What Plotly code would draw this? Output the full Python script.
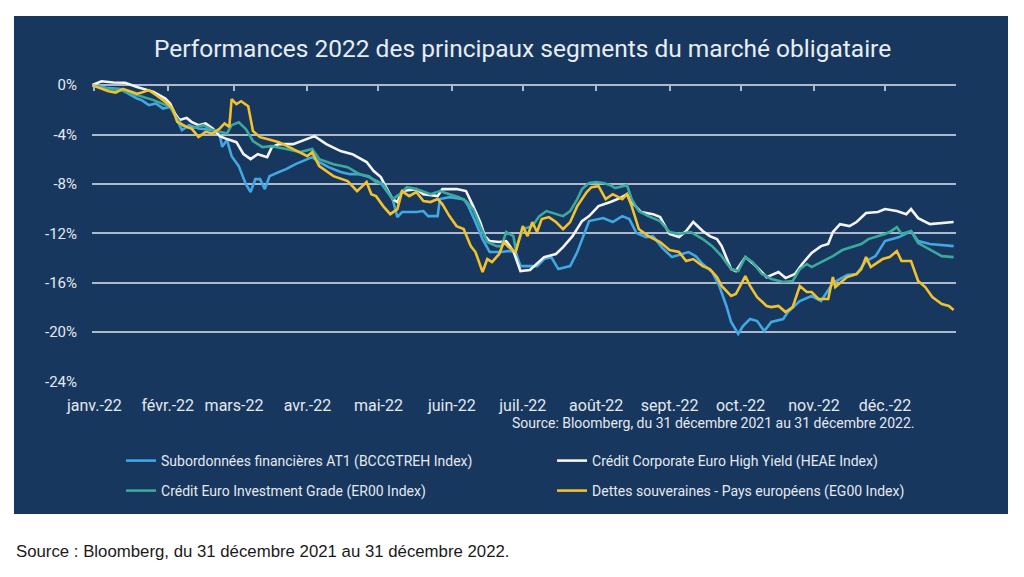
import pandas as pd
import plotly.graph_objects as go

BASE = "2021-12-31"

# ---- data: day offsets from 31/12/2021 and performance in % ----
at1_days = [0, 6, 12, 14, 19, 21, 24, 27, 30, 33, 35, 37, 38, 41, 45, 51, 54, 55, 57, 59, 62, 65, 67, 69, 71, 73, 75,
            79, 82, 86, 91, 93, 96, 100, 105, 109, 113, 117, 122, 124, 127, 129, 131, 137, 140, 142, 146, 147, 151,
            157, 159, 162, 165, 168, 173, 176, 179, 181, 188, 191, 194, 197, 202, 205, 207, 210, 216, 220, 224, 227,
            230, 234, 237, 241, 245, 249, 252, 255, 258, 262, 265, 268, 270, 273, 275, 278, 281, 284, 287, 292, 294,
            299, 304, 308, 313, 319, 323, 327, 331, 335, 341, 346, 349, 354, 364]
at1_vals = [0.0, -0.22, -0.32, -0.54, -1.08, -1.21, -1.62, -1.48, -1.89, -1.76, -2.29, -3.24, -3.64, -3.24, -3.51,
            -3.64, -4.05, -5.0, -4.45, -5.75, -6.56, -8.02, -8.66, -7.61, -7.61, -8.42, -7.37, -7.04, -6.80, -6.40,
            -5.99, -5.83, -6.23, -6.64, -7.04, -7.21, -7.21, -7.45, -7.93, -8.42, -9.23, -10.69, -10.28, -10.28,
            -10.20, -10.61, -10.61, -9.23, -9.07, -9.23, -9.80, -11.09, -12.47, -13.52, -13.52, -13.44, -13.52,
            -14.66, -14.66, -14.09, -13.93, -14.90, -14.66, -13.52, -12.47, -11.01, -10.77, -11.09, -10.61, -10.85,
            -11.98, -12.31, -12.23, -13.20, -13.93, -13.68, -13.52, -13.85, -14.49, -15.14, -16.27, -17.89, -19.19,
            -20.16, -19.51, -18.95, -19.11, -19.92, -19.19, -18.95, -18.38, -17.49, -17.08, -17.49, -16.03, -15.38,
            -15.30, -14.25, -13.85, -12.63, -12.31, -11.82, -12.63, -12.87, -13.04]

hy_days = [0, 4, 9, 14, 19, 26, 31, 33, 35, 37, 40, 42, 45, 48, 51, 54, 57, 61, 64, 67, 70, 74, 76, 79, 85, 91, 94,
           99, 105, 110, 116, 119, 122, 124, 127, 129, 131, 137, 140, 146, 148, 154, 158, 161, 164, 166, 168, 172,
           175, 178, 181, 185, 188, 191, 196, 199, 203, 207, 210, 214, 219, 223, 226, 228, 232, 237, 240, 244, 248,
           251, 254, 258, 261, 264, 266, 270, 272, 276, 280, 285, 290, 293, 297, 300, 304, 308, 311, 313, 316, 320,
           323, 327, 332, 335, 340, 344, 346, 349, 354, 358, 364]
hy_vals = [0.0, 0.32, 0.22, 0.2, -0.14, -0.54, -1.08, -1.49, -2.29, -2.83, -2.65, -2.97, -3.24, -3.10, -3.51, -4.13,
           -4.37, -4.62, -5.59, -5.99, -5.59, -5.83, -5.02, -4.78, -4.78, -4.37, -4.13, -4.78, -5.34, -5.59, -6.23,
           -6.96, -7.45, -8.18, -9.23, -9.47, -8.58, -8.42, -8.83, -8.99, -8.42, -8.42, -8.58, -9.80, -11.09, -12.23,
           -12.63, -12.71, -12.63, -13.44, -15.06, -14.98, -14.49, -13.93, -13.68, -13.12, -12.23, -11.01, -10.61,
           -9.80, -9.47, -9.15, -8.83, -9.47, -10.28, -10.45, -10.69, -12.06, -12.31, -11.82, -11.09, -11.82, -12.23,
           -12.47, -13.04, -14.90, -15.06, -13.93, -14.57, -15.55, -15.14, -15.63, -15.30, -14.49, -13.60, -13.04,
           -12.87, -11.90, -11.26, -11.42, -11.09, -10.36, -10.28, -10.04, -10.20, -10.45, -10.04, -10.77, -11.26,
           -11.17, -11.09]

ig_days = [0, 6, 12, 19, 26, 33, 35, 38, 42, 47, 51, 54, 57, 59, 62, 65, 68, 72, 76, 82, 88, 93, 96, 102, 108, 113,
           117, 120, 123, 127, 130, 133, 137, 143, 147, 151, 155, 158, 161, 164, 167, 171, 173, 175, 178, 179, 182,
           186, 189, 192, 196, 199, 202, 205, 207, 210, 213, 216, 219, 221, 226, 228, 231, 235, 240, 244, 248, 253,
           258, 262, 266, 270, 273, 276, 279, 283, 287, 292, 296, 299, 302, 304, 308, 313, 317, 321, 325, 328, 331,
           335, 337, 340, 342, 346, 349, 355, 359, 364]
ig_vals = [0.0, -0.27, -0.40, -0.81, -1.21, -1.76, -2.43, -3.24, -3.51, -3.24, -3.64, -3.78, -3.91, -3.24, -3.00,
           -3.56, -4.53, -5.02, -4.94, -5.18, -5.42, -5.18, -5.99, -6.40, -6.64, -7.21, -7.37, -7.85, -8.02, -9.23,
           -8.83, -8.26, -8.42, -8.83, -8.58, -8.83, -9.07, -9.39, -10.04, -11.42, -12.71, -13.04, -13.04, -11.90,
           -12.23, -13.28, -11.66, -11.42, -10.61, -10.20, -10.45, -10.61, -10.20, -9.23, -8.42, -7.93, -7.85, -7.93,
           -8.10, -8.34, -8.10, -9.23, -10.20, -10.61, -11.01, -11.90, -12.06, -11.90, -12.47, -13.04, -13.85, -14.90,
           -15.06, -13.93, -14.33, -15.30, -15.71, -15.95, -15.87, -14.90, -14.49, -14.74, -14.33, -13.85, -13.36,
           -13.12, -12.87, -12.47, -12.31, -12.06, -11.90, -11.50, -12.06, -11.82, -12.79, -13.44, -13.85, -13.93]

sov_days = [0, 4, 7, 10, 13, 16, 19, 21, 24, 27, 31, 34, 36, 40, 42, 45, 48, 51, 54, 56, 58, 59, 61, 63, 66, 68, 71,
            74, 79, 85, 91, 93, 96, 102, 108, 112, 116, 118, 120, 123, 126, 129, 131, 134, 137, 140, 143, 146, 148,
            151, 154, 157, 160, 162, 165, 167, 169, 172, 174, 176, 179, 182, 184, 186, 188, 190, 193, 196, 199, 202,
            205, 209, 211, 214, 217, 220, 224, 226, 228, 231, 235, 240, 244, 248, 251, 254, 258, 261, 264, 266, 270,
            272, 276, 278, 281, 285, 287, 290, 293, 296, 299, 302, 304, 307, 311, 313, 314, 319, 323, 325, 327, 329,
            334, 337, 340, 342, 346, 349, 352, 355, 359, 362, 364]
sov_vals = [0.0, -0.3, -0.5, -0.6, -0.3, -0.5, -0.7, -0.6, -0.4, -0.8, -1.35, -1.89, -2.97, -3.38, -3.51, -4.19,
            -3.78, -3.91, -3.51, -3.10, -3.38, -1.13, -1.54, -1.30, -1.70, -3.72, -4.21, -4.37, -4.62, -5.18, -5.75,
            -5.42, -6.56, -7.37, -7.77, -8.58, -7.85, -8.83, -8.99, -9.80, -10.45, -10.04, -8.58, -8.99, -8.66,
            -9.39, -9.47, -9.23, -9.64, -10.61, -11.42, -11.66, -13.04, -13.52, -15.14, -14.09, -14.33, -13.68,
            -12.71, -13.12, -13.52, -11.42, -12.23, -11.09, -11.90, -10.85, -10.69, -11.09, -11.66, -11.09, -9.80,
            -8.66, -8.26, -8.18, -9.23, -8.83, -9.23, -8.83, -9.80, -11.66, -12.23, -12.71, -13.36, -13.52, -14.25,
            -14.09, -14.66, -14.90, -15.55, -16.27, -17.08, -16.92, -15.47, -16.27, -17.17, -17.89, -17.98, -17.89,
            -18.38, -17.98, -16.27, -16.76, -16.76, -17.33, -17.33, -15.55, -16.36, -15.55, -15.30, -14.90, -13.93,
            -14.74, -14.09, -13.93, -13.44, -14.25, -14.25, -15.87, -16.36, -17.17, -17.73, -17.89, -18.22]

series_names = [
    "Subordonnées financières AT1 (BCCGTREH Index)",
    "Crédit Corporate Euro High Yield (HEAE Index)",
    "Crédit Euro Investment Grade (ER00 Index)",
    "Dettes souveraines - Pays européens (EG00 Index)",
]
month_labels = ["janv.-22", "févr.-22", "mars-22", "avr.-22", "mai-22", "juin-22",
                "juil.-22", "août-22", "sept.-22", "oct.-22", "nov.-22", "déc.-22"]
y_ticks = [0, -4, -8, -12, -16, -20, -24]
y_labels = ["0%", "-4%", "-8%", "-12%", "-16%", "-20%", "-24%"]

# ---- styling ----
NAVY = "#17375E"
GRID = "#AEBACB"
TXT = "#E4E9F0"
colors = ["#42A7E2", "#F4F4F4", "#3BAA9C", "#F2C12E"]
FONT = "Roboto"

base = pd.Timestamp(BASE)
def to_dates(days):
    return base + pd.to_timedelta(days, unit="D")

month_ticks = pd.date_range("2022-01-01", periods=12, freq="MS")
x_range = [base, pd.Timestamp("2022-12-31")]
y_min, y_max = -24.05, 0.5

fig = go.Figure()
data = [(at1_days, at1_vals), (hy_days, hy_vals), (ig_days, ig_vals), (sov_days, sov_vals)]
legend_ids = ["legend", "legend", "legend2", "legend2"]
for (d, v), name, c, lg in zip(data, series_names, colors, legend_ids):
    fig.add_trace(go.Scatter(x=to_dates(d), y=v, mode="lines", name=name,
                             line=dict(color=c, width=2.6), legend=lg))

# dummy trace so the secondary x axis (ticks on the 0% line) is drawn
fig.add_trace(go.Scatter(x=[x_range[0]], y=[0], xaxis="x2", mode="markers",
                         marker=dict(opacity=0), showlegend=False, hoverinfo="skip"))

zero_pos = (0 - y_min) / (y_max - y_min)

fig.update_layout(
    width=1024, height=577,
    margin=dict(l=92, r=68, t=79, b=195),
    paper_bgcolor="white",
    plot_bgcolor=NAVY,
    font=dict(family=FONT, color=TXT),
    showlegend=True,
    xaxis=dict(type="date", range=x_range, tickvals=month_ticks, ticktext=month_labels,
               showgrid=False, zeroline=False, showline=False,
               ticks="outside", ticklen=9, tickcolor="rgba(0,0,0,0)",
               tickfont=dict(size=16, color=TXT, family=FONT)),
    xaxis2=dict(type="date", overlaying="x", matches="x", anchor="free", position=zero_pos,
                side="bottom", tickvals=month_ticks, showticklabels=False,
                ticks="outside", ticklen=5, tickwidth=1.5, tickcolor=GRID,
                showgrid=False, zeroline=False, showline=False),
    yaxis=dict(range=[y_min, y_max], tickvals=y_ticks, ticktext=y_labels,
               showgrid=True, gridcolor=GRID, gridwidth=1.6, zeroline=False, showline=False,
               ticks="outside", ticklen=11, tickcolor="rgba(0,0,0,0)",
               tickfont=dict(size=15, color=TXT, family=FONT)),
    legend=dict(orientation="h", x=0.0336, y=-0.2607, xanchor="left", yanchor="middle",
                entrywidth=386, bgcolor="rgba(0,0,0,0)",
                font=dict(size=14, color=TXT, family=FONT)),
    legend2=dict(orientation="h", x=0.0336, y=-0.3597, xanchor="left", yanchor="middle",
                 entrywidth=386, bgcolor="rgba(0,0,0,0)",
                 font=dict(size=14, color=TXT, family=FONT)),
    shapes=[dict(type="rect", xref="paper", yref="paper",
                 x0=-0.0903, x1=1.0602, y0=-0.4356, y1=1.2079,
                 fillcolor=NAVY, line=dict(width=0), layer="below")],
    annotations=[
        dict(text="Performances 2022 des principaux segments du marché obligataire",
             xref="paper", yref="paper", x=0.4977, y=1.1023, xanchor="center", yanchor="middle",
             showarrow=False, font=dict(size=24.5, color="#E8EDF3", family=FONT)),
        dict(text="Source: Bloomberg, du 31 décembre 2021 au 31 décembre 2022.",
             xref="paper", yref="paper", x=0.9537, y=-0.1353, xanchor="right", yanchor="middle",
             showarrow=False, font=dict(size=14, color=TXT, family=FONT)),
        dict(text="Source : Bloomberg, du 31 décembre 2021 au 31 décembre 2022.",
             xref="paper", yref="paper", x=-0.0905, y=-0.561, xanchor="left", yanchor="middle",
             showarrow=False, font=dict(size=16.8, color="#1A1A1A", family="Liberation Sans")),
    ],
)

fig.write_html("out.html")
